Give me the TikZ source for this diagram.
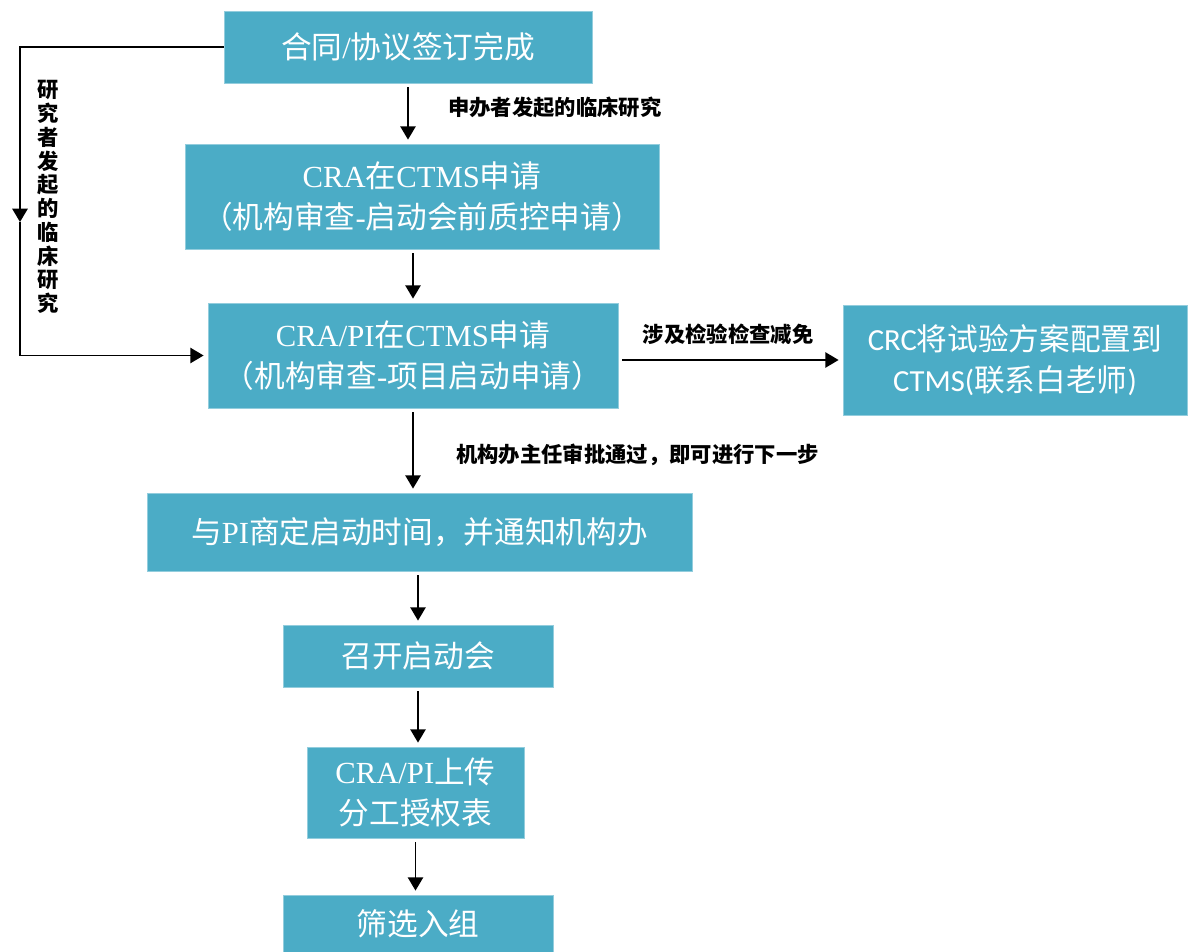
\documentclass[tikz,border=0pt]{standalone}
\usepackage{fontspec}
\setmainfont{Noto Sans CJK SC}
\newfontfamily\latinserif{Liberation Serif}
\newfontfamily\latinsans{Carlito}
\usepackage{xcolor}
\definecolor{accent}{HTML}{4BACC6}
\usepackage{tikz}
\usetikzlibrary{calc,positioning,arrows.meta}
\newcommand{\latn}[1]{{\latinserif #1}}
\newcommand{\lats}[1]{{\latinsans #1}}

\tikzset{
  stepbox/.style={fill=accent, draw=accent!60!white, line width=0.6pt,
    text=white, inner sep=0pt, align=center,
    font=\fontsize{23}{31}\selectfont},
  flow/.style={line width=1.4pt, -{Triangle[length=10pt,width=11.5pt]},
    shorten <=3pt, shorten >=3pt},
  lbl/.style={font=\fontsize{16}{17.8}\selectfont\bfseries, inner sep=0pt}
}

\begin{document}
\begin{tikzpicture}[x=0.75pt, y=-0.75pt]
  \useasboundingbox (0,0) rectangle (1189,952);

  % Boxes of the main flow
  \node[stepbox, minimum width=276pt, minimum height=54pt] (contract) at (408,47)
    {合同\latn{/}协议签订完成};
  \node[stepbox, minimum width=355.5pt, minimum height=78.75pt] (qc) at (422,196.5)
    {\latn{CRA}在\latn{CTMS}申请\\（机构审查\latn{-}启动会前质控申请）};
  \node[stepbox, minimum width=307.5pt, minimum height=78.75pt] (apply) at (413,355.5)
    {\latn{CRA/PI}在\latn{CTMS}申请\\（机构审查\latn{-}项目启动申请）};
  \node[stepbox, minimum width=258pt, minimum height=82.5pt] (crc) at (1015,360)
    {\lats{CRC}将试验方案配置到\\\lats{CTMS(}联系白老师\lats{)}};
  \node[stepbox, minimum width=408.75pt, minimum height=58.5pt] (date) at (419.5,532)
    {与\latn{PI}商定启动时间，并通知机构办};
  \node[stepbox, minimum width=202.5pt, minimum height=46.5pt] (kickoff) at (418,656)
    {召开启动会};
  \node[stepbox, minimum width=162.75pt, minimum height=68.25pt] (upload) at (415.5,792.5)
    {\latn{CRA/PI}上传\\分工授权表};
  \node[stepbox, minimum width=202.5pt, minimum height=42.75pt] (screen) at (418,923.5)
    {筛选入组};

  % Connectors
  \draw[flow] (contract.south) -- (contract.south |- qc.north);
  \draw[flow] (apply.north |- qc.south) -- (apply.north);
  \draw[flow] (apply.south) -- (apply.south |- date.north);
  \draw[flow] (kickoff.north |- date.south) -- (kickoff.north);
  \draw[flow] (kickoff.south) -- (kickoff.south |- upload.north);
  \draw[flow] (upload.south) -- (upload.south |- screen.north);
  \draw[flow] (apply.east |- crc.west) -- (crc.west);

  % Investigator loop on the left
  \coordinate (loopmid) at (20,222);
  \draw[flow, shorten <=0pt, shorten >=0pt] (contract.west) -| (loopmid);
  \draw[flow, shorten <=0pt] (loopmid) |- (apply.west);

  % Labels
  \node[lbl, anchor=west] (sponsor) at (448,107) {申办者发起的临床研究};
  \node[lbl] (waiver) at (728,334) {涉及检验检查减免};
  \node[lbl, anchor=west] (approve) at (456,455) {机构办主任审批通过，即可进行下一步};
  \node[lbl, align=center] (investigator) at (48,197)
    {研\\究\\者\\发\\起\\的\\临\\床\\研\\究};
\end{tikzpicture}
\end{document}
